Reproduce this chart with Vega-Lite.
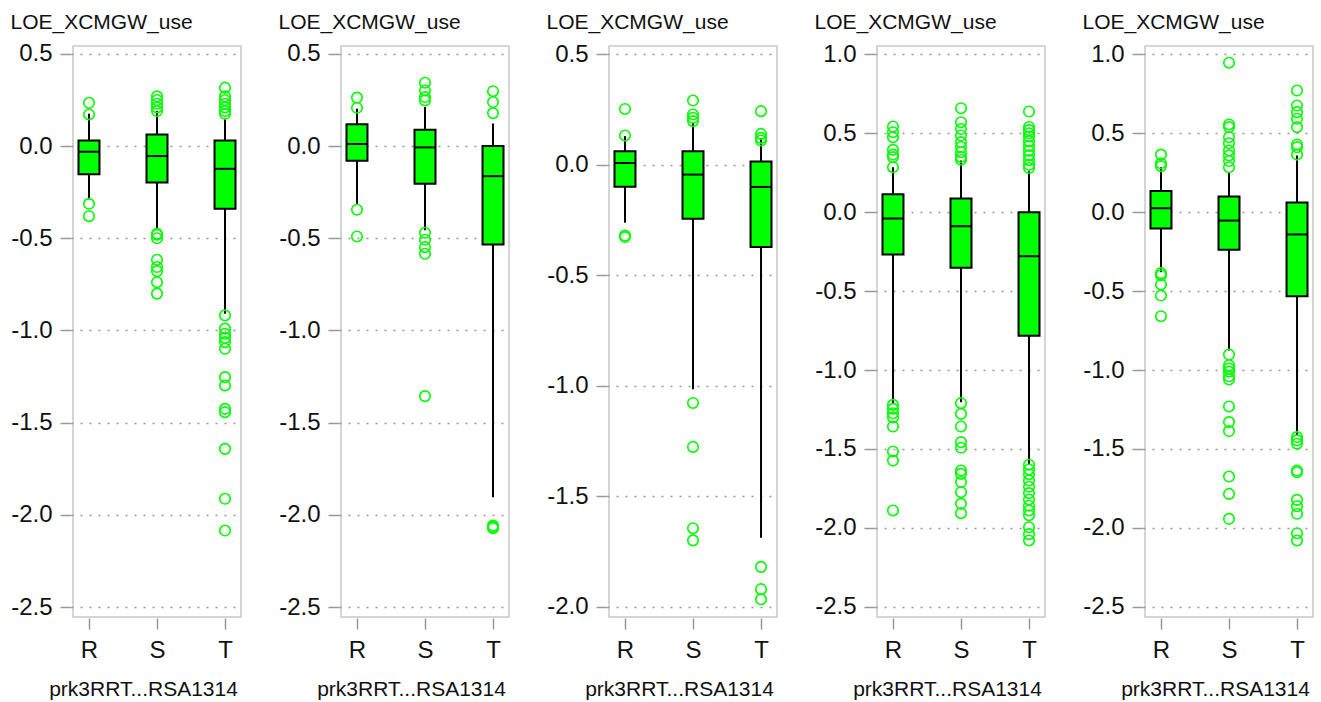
{
"$schema": "https://vega.github.io/schema/vega-lite/v6.json",
"padding": {"left": 9, "top": 10, "right": 0, "bottom": 0},
"bounds": "flush",
"spacing": 100,
"background": "white",
"datasets": {
"boxes": [
{"p":1,"c":"R","lo":-0.289,"q1":-0.152,"med":-0.030,"q3":0.031,"hi":0.176},
{"p":1,"c":"S","lo":-0.457,"q1":-0.197,"med":-0.054,"q3":0.063,"hi":0.19},
{"p":1,"c":"T","lo":-0.909,"q1":-0.34,"med":-0.123,"q3":0.031,"hi":0.149},
{"p":2,"c":"R","lo":-0.313,"q1":-0.079,"med":0.011,"q3":0.118,"hi":0.203},
{"p":2,"c":"S","lo":-0.457,"q1":-0.204,"med":-0.007,"q3":0.089,"hi":0.212},
{"p":2,"c":"T","lo":-1.904,"q1":-0.533,"med":-0.163,"q3":0.0,"hi":0.122},
{"p":3,"c":"R","lo":-0.262,"q1":-0.0995,"med":0.008,"q3":0.062,"hi":0.13},
{"p":3,"c":"S","lo":-1.016,"q1":-0.244,"med":-0.044,"q3":0.061,"hi":0.19},
{"p":3,"c":"T","lo":-1.688,"q1":-0.372,"med":-0.1,"q3":0.015,"hi":0.122},
{"p":4,"c":"R","lo":-1.214,"q1":-0.268,"med":-0.04,"q3":0.114,"hi":0.285},
{"p":4,"c":"S","lo":-1.204,"q1":-0.352,"med":-0.089,"q3":0.087,"hi":0.328},
{"p":4,"c":"T","lo":-1.595,"q1":-0.783,"med":-0.279,"q3":0.0,"hi":0.26},
{"p":5,"c":"R","lo":-0.38,"q1":-0.103,"med":0.025,"q3":0.135,"hi":0.285},
{"p":5,"c":"S","lo":-0.876,"q1":-0.238,"med":-0.053,"q3":0.1,"hi":0.253},
{"p":5,"c":"T","lo":-1.415,"q1":-0.532,"med":-0.141,"q3":0.061,"hi":0.359}
],
"outliers": [
{"p":1,"c":"R","v":0.235},{"p":1,"c":"R","v":0.172},{"p":1,"c":"R","v":-0.313},{"p":1,"c":"R","v":-0.38},
{"p":1,"c":"S","v":0.27},{"p":1,"c":"S","v":0.25},{"p":1,"c":"S","v":0.23},{"p":1,"c":"S","v":0.21},{"p":1,"c":"S","v":0.19},{"p":1,"c":"S","v":-0.475},{"p":1,"c":"S","v":-0.48},{"p":1,"c":"S","v":-0.5},{"p":1,"c":"S","v":-0.616},{"p":1,"c":"S","v":-0.656},{"p":1,"c":"S","v":-0.678},{"p":1,"c":"S","v":-0.738},{"p":1,"c":"S","v":-0.8},
{"p":1,"c":"T","v":0.317},{"p":1,"c":"T","v":0.27},{"p":1,"c":"T","v":0.25},{"p":1,"c":"T","v":0.23},{"p":1,"c":"T","v":0.21},{"p":1,"c":"T","v":0.19},{"p":1,"c":"T","v":0.175},{"p":1,"c":"T","v":-0.918},{"p":1,"c":"T","v":-0.99},{"p":1,"c":"T","v":-1.018},{"p":1,"c":"T","v":-1.04},{"p":1,"c":"T","v":-1.063},{"p":1,"c":"T","v":-1.099},{"p":1,"c":"T","v":-1.253},{"p":1,"c":"T","v":-1.298},{"p":1,"c":"T","v":-1.425},{"p":1,"c":"T","v":-1.443},{"p":1,"c":"T","v":-1.642},{"p":1,"c":"T","v":-1.913},{"p":1,"c":"T","v":-2.085},
{"p":2,"c":"R","v":0.263},{"p":2,"c":"R","v":0.208},{"p":2,"c":"R","v":-0.345},{"p":2,"c":"R","v":-0.49},
{"p":2,"c":"S","v":0.344},{"p":2,"c":"S","v":0.302},{"p":2,"c":"S","v":0.266},{"p":2,"c":"S","v":0.248},{"p":2,"c":"S","v":-0.47},{"p":2,"c":"S","v":-0.508},{"p":2,"c":"S","v":-0.548},{"p":2,"c":"S","v":-0.584},{"p":2,"c":"S","v":-1.356},
{"p":2,"c":"T","v":0.298},{"p":2,"c":"T","v":0.239},{"p":2,"c":"T","v":0.179},{"p":2,"c":"T","v":-2.058},{"p":2,"c":"T","v":-2.065},{"p":2,"c":"T","v":-2.072},
{"p":3,"c":"R","v":0.253},{"p":3,"c":"R","v":0.133},{"p":3,"c":"R","v":-0.32},{"p":3,"c":"R","v":-0.327},
{"p":3,"c":"S","v":0.291},{"p":3,"c":"S","v":0.228},{"p":3,"c":"S","v":0.213},{"p":3,"c":"S","v":0.198},{"p":3,"c":"S","v":-1.078},{"p":3,"c":"S","v":-1.277},{"p":3,"c":"S","v":-1.645},{"p":3,"c":"S","v":-1.7},
{"p":3,"c":"T","v":0.243},{"p":3,"c":"T","v":0.14},{"p":3,"c":"T","v":0.122},{"p":3,"c":"T","v":0.11},{"p":3,"c":"T","v":-1.82},{"p":3,"c":"T","v":-1.921},{"p":3,"c":"T","v":-1.967},
{"p":4,"c":"R","v":0.543},{"p":4,"c":"R","v":0.507},{"p":4,"c":"R","v":0.475},{"p":4,"c":"R","v":0.395},{"p":4,"c":"R","v":0.365},{"p":4,"c":"R","v":0.349},{"p":4,"c":"R","v":0.285},{"p":4,"c":"R","v":-1.221},{"p":4,"c":"R","v":-1.246},{"p":4,"c":"R","v":-1.274},{"p":4,"c":"R","v":-1.3},{"p":4,"c":"R","v":-1.358},{"p":4,"c":"R","v":-1.516},{"p":4,"c":"R","v":-1.574},{"p":4,"c":"R","v":-1.89},
{"p":4,"c":"S","v":0.659},{"p":4,"c":"S","v":0.57},{"p":4,"c":"S","v":0.527},{"p":4,"c":"S","v":0.486},{"p":4,"c":"S","v":0.444},{"p":4,"c":"S","v":0.413},{"p":4,"c":"S","v":0.38},{"p":4,"c":"S","v":0.349},{"p":4,"c":"S","v":0.332},{"p":4,"c":"S","v":-1.21},{"p":4,"c":"S","v":-1.278},{"p":4,"c":"S","v":-1.358},{"p":4,"c":"S","v":-1.457},{"p":4,"c":"S","v":-1.493},{"p":4,"c":"S","v":-1.637},{"p":4,"c":"S","v":-1.658},{"p":4,"c":"S","v":-1.71},{"p":4,"c":"S","v":-1.774},{"p":4,"c":"S","v":-1.848},{"p":4,"c":"S","v":-1.907},
{"p":4,"c":"T","v":0.638},{"p":4,"c":"T","v":0.54},{"p":4,"c":"T","v":0.52},{"p":4,"c":"T","v":0.5},{"p":4,"c":"T","v":0.48},{"p":4,"c":"T","v":0.45},{"p":4,"c":"T","v":0.42},{"p":4,"c":"T","v":0.39},{"p":4,"c":"T","v":0.36},{"p":4,"c":"T","v":0.33},{"p":4,"c":"T","v":0.3},{"p":4,"c":"T","v":0.28},{"p":4,"c":"T","v":-1.6},{"p":4,"c":"T","v":-1.63},{"p":4,"c":"T","v":-1.66},{"p":4,"c":"T","v":-1.7},{"p":4,"c":"T","v":-1.74},{"p":4,"c":"T","v":-1.78},{"p":4,"c":"T","v":-1.82},{"p":4,"c":"T","v":-1.86},{"p":4,"c":"T","v":-1.89},{"p":4,"c":"T","v":-1.92},{"p":4,"c":"T","v":-1.996},{"p":4,"c":"T","v":-2.04},{"p":4,"c":"T","v":-2.08},
{"p":5,"c":"R","v":0.365},{"p":5,"c":"R","v":0.31},{"p":5,"c":"R","v":0.292},{"p":5,"c":"R","v":-0.386},{"p":5,"c":"R","v":-0.4},{"p":5,"c":"R","v":-0.458},{"p":5,"c":"R","v":-0.528},{"p":5,"c":"R","v":-0.659},
{"p":5,"c":"S","v":0.947},{"p":5,"c":"S","v":0.556},{"p":5,"c":"S","v":0.539},{"p":5,"c":"S","v":0.475},{"p":5,"c":"S","v":0.437},{"p":5,"c":"S","v":0.391},{"p":5,"c":"S","v":0.36},{"p":5,"c":"S","v":0.324},{"p":5,"c":"S","v":0.285},{"p":5,"c":"S","v":-0.902},{"p":5,"c":"S","v":-0.97},{"p":5,"c":"S","v":-0.99},{"p":5,"c":"S","v":-1.01},{"p":5,"c":"S","v":-1.04},{"p":5,"c":"S","v":-1.06},{"p":5,"c":"S","v":-1.231},{"p":5,"c":"S","v":-1.33},{"p":5,"c":"S","v":-1.387},{"p":5,"c":"S","v":-1.675},{"p":5,"c":"S","v":-1.785},{"p":5,"c":"S","v":-1.943},
{"p":5,"c":"T","v":0.771},{"p":5,"c":"T","v":0.676},{"p":5,"c":"T","v":0.634},{"p":5,"c":"T","v":0.592},{"p":5,"c":"T","v":0.539},{"p":5,"c":"T","v":0.429},{"p":5,"c":"T","v":0.412},{"p":5,"c":"T","v":0.365},{"p":5,"c":"T","v":-1.425},{"p":5,"c":"T","v":-1.446},{"p":5,"c":"T","v":-1.467},{"p":5,"c":"T","v":-1.637},{"p":5,"c":"T","v":-1.648},{"p":5,"c":"T","v":-1.823},{"p":5,"c":"T","v":-1.863},{"p":5,"c":"T","v":-1.911},{"p":5,"c":"T","v":-2.034},{"p":5,"c":"T","v":-2.08}
]
},
"hconcat": [
{"width":168,"height":571,"layer":[
 {"data":{"name":"boxes"},"transform":[{"filter":"datum.p==1"}],"mark":{"type":"rule","color":"black","strokeWidth":2},
  "encoding":{"x":{"field":"c","type":"nominal","scale":{"type":"point","domain":["R","S","T"],"padding":0.235},"axis":{"title":"prk3RRT...RSA1314","titleX":70,"titleY":77,"titleBaseline":"alphabetic","titleAlign":"center"}},
   "y":{"field":"lo","type":"quantitative","scale":{"domain":[-2.554,0.543],"nice":false,"zero":false},"axis":{"title":"LOE_XCMGW_use","values":[-2.5,-2,-1.5,-1,-0.5,0,0.5],"labelExpr":"datum.value < 0 ? '-' + format(-datum.value, '.1f') : format(datum.value, '.1f')","titleX":-61,"titleY":-18,"titleAngle":0,"titleAlign":"left","titleBaseline":"alphabetic"}},"y2":{"field":"hi"}}},
 {"data":{"name":"boxes"},"transform":[{"filter":"datum.p==1"}],"mark":{"type":"bar","fill":"#00ff00","stroke":"black","strokeWidth":2,"width":21},
  "encoding":{"x":{"field":"c","type":"nominal","scale":{"type":"point","domain":["R","S","T"],"padding":0.235}},
   "y":{"field":"q1","type":"quantitative","scale":{"domain":[-2.554,0.543],"nice":false,"zero":false}},"y2":{"field":"q3"}}},
 {"data":{"name":"boxes"},"transform":[{"filter":"datum.p==1"}],"mark":{"type":"tick","color":"black","size":21,"thickness":2,"opacity":1},
  "encoding":{"x":{"field":"c","type":"nominal","scale":{"type":"point","domain":["R","S","T"],"padding":0.235}},
   "y":{"field":"med","type":"quantitative","scale":{"domain":[-2.554,0.543],"nice":false,"zero":false}}}},
 {"data":{"name":"outliers"},"transform":[{"filter":"datum.p==1"}],"mark":{"type":"point","shape":"circle","filled":false,"color":"#00ff00","size":110,"strokeWidth":1.6,"opacity":1},
  "encoding":{"x":{"field":"c","type":"nominal","scale":{"type":"point","domain":["R","S","T"],"padding":0.235}},
   "y":{"field":"v","type":"quantitative","scale":{"domain":[-2.554,0.543],"nice":false,"zero":false}}}}
]},
{"width":168,"height":571,"layer":[
 {"data":{"name":"boxes"},"transform":[{"filter":"datum.p==2"}],"mark":{"type":"rule","color":"black","strokeWidth":2},
  "encoding":{"x":{"field":"c","type":"nominal","scale":{"type":"point","domain":["R","S","T"],"padding":0.235},"axis":{"title":"prk3RRT...RSA1314","titleX":70,"titleY":77,"titleBaseline":"alphabetic","titleAlign":"center"}},
   "y":{"field":"lo","type":"quantitative","scale":{"domain":[-2.554,0.543],"nice":false,"zero":false},"axis":{"title":"LOE_XCMGW_use","values":[-2.5,-2,-1.5,-1,-0.5,0,0.5],"labelExpr":"datum.value < 0 ? '-' + format(-datum.value, '.1f') : format(datum.value, '.1f')","titleX":-61,"titleY":-18,"titleAngle":0,"titleAlign":"left","titleBaseline":"alphabetic"}},"y2":{"field":"hi"}}},
 {"data":{"name":"boxes"},"transform":[{"filter":"datum.p==2"}],"mark":{"type":"bar","fill":"#00ff00","stroke":"black","strokeWidth":2,"width":21},
  "encoding":{"x":{"field":"c","type":"nominal","scale":{"type":"point","domain":["R","S","T"],"padding":0.235}},
   "y":{"field":"q1","type":"quantitative","scale":{"domain":[-2.554,0.543],"nice":false,"zero":false}},"y2":{"field":"q3"}}},
 {"data":{"name":"boxes"},"transform":[{"filter":"datum.p==2"}],"mark":{"type":"tick","color":"black","size":21,"thickness":2,"opacity":1},
  "encoding":{"x":{"field":"c","type":"nominal","scale":{"type":"point","domain":["R","S","T"],"padding":0.235}},
   "y":{"field":"med","type":"quantitative","scale":{"domain":[-2.554,0.543],"nice":false,"zero":false}}}},
 {"data":{"name":"outliers"},"transform":[{"filter":"datum.p==2"}],"mark":{"type":"point","shape":"circle","filled":false,"color":"#00ff00","size":110,"strokeWidth":1.6,"opacity":1},
  "encoding":{"x":{"field":"c","type":"nominal","scale":{"type":"point","domain":["R","S","T"],"padding":0.235}},
   "y":{"field":"v","type":"quantitative","scale":{"domain":[-2.554,0.543],"nice":false,"zero":false}}}}
]},
{"width":168,"height":571,"layer":[
 {"data":{"name":"boxes"},"transform":[{"filter":"datum.p==3"}],"mark":{"type":"rule","color":"black","strokeWidth":2},
  "encoding":{"x":{"field":"c","type":"nominal","scale":{"type":"point","domain":["R","S","T"],"padding":0.235},"axis":{"title":"prk3RRT...RSA1314","titleX":70,"titleY":77,"titleBaseline":"alphabetic","titleAlign":"center"}},
   "y":{"field":"lo","type":"quantitative","scale":{"domain":[-2.047,0.538],"nice":false,"zero":false},"axis":{"title":"LOE_XCMGW_use","values":[-2,-1.5,-1,-0.5,0,0.5],"labelExpr":"datum.value < 0 ? '-' + format(-datum.value, '.1f') : format(datum.value, '.1f')","titleX":-61,"titleY":-18,"titleAngle":0,"titleAlign":"left","titleBaseline":"alphabetic"}},"y2":{"field":"hi"}}},
 {"data":{"name":"boxes"},"transform":[{"filter":"datum.p==3"}],"mark":{"type":"bar","fill":"#00ff00","stroke":"black","strokeWidth":2,"width":21},
  "encoding":{"x":{"field":"c","type":"nominal","scale":{"type":"point","domain":["R","S","T"],"padding":0.235}},
   "y":{"field":"q1","type":"quantitative","scale":{"domain":[-2.047,0.538],"nice":false,"zero":false}},"y2":{"field":"q3"}}},
 {"data":{"name":"boxes"},"transform":[{"filter":"datum.p==3"}],"mark":{"type":"tick","color":"black","size":21,"thickness":2,"opacity":1},
  "encoding":{"x":{"field":"c","type":"nominal","scale":{"type":"point","domain":["R","S","T"],"padding":0.235}},
   "y":{"field":"med","type":"quantitative","scale":{"domain":[-2.047,0.538],"nice":false,"zero":false}}}},
 {"data":{"name":"outliers"},"transform":[{"filter":"datum.p==3"}],"mark":{"type":"point","shape":"circle","filled":false,"color":"#00ff00","size":110,"strokeWidth":1.6,"opacity":1},
  "encoding":{"x":{"field":"c","type":"nominal","scale":{"type":"point","domain":["R","S","T"],"padding":0.235}},
   "y":{"field":"v","type":"quantitative","scale":{"domain":[-2.047,0.538],"nice":false,"zero":false}}}}
]},
{"width":168,"height":571,"layer":[
 {"data":{"name":"boxes"},"transform":[{"filter":"datum.p==4"}],"mark":{"type":"rule","color":"black","strokeWidth":2},
  "encoding":{"x":{"field":"c","type":"nominal","scale":{"type":"point","domain":["R","S","T"],"padding":0.235},"axis":{"title":"prk3RRT...RSA1314","titleX":70,"titleY":77,"titleBaseline":"alphabetic","titleAlign":"center"}},
   "y":{"field":"lo","type":"quantitative","scale":{"domain":[-2.565,1.053],"nice":false,"zero":false},"axis":{"title":"LOE_XCMGW_use","values":[-2.5,-2,-1.5,-1,-0.5,0,0.5,1],"labelExpr":"datum.value < 0 ? '-' + format(-datum.value, '.1f') : format(datum.value, '.1f')","titleX":-61,"titleY":-18,"titleAngle":0,"titleAlign":"left","titleBaseline":"alphabetic"}},"y2":{"field":"hi"}}},
 {"data":{"name":"boxes"},"transform":[{"filter":"datum.p==4"}],"mark":{"type":"bar","fill":"#00ff00","stroke":"black","strokeWidth":2,"width":21},
  "encoding":{"x":{"field":"c","type":"nominal","scale":{"type":"point","domain":["R","S","T"],"padding":0.235}},
   "y":{"field":"q1","type":"quantitative","scale":{"domain":[-2.565,1.053],"nice":false,"zero":false}},"y2":{"field":"q3"}}},
 {"data":{"name":"boxes"},"transform":[{"filter":"datum.p==4"}],"mark":{"type":"tick","color":"black","size":21,"thickness":2,"opacity":1},
  "encoding":{"x":{"field":"c","type":"nominal","scale":{"type":"point","domain":["R","S","T"],"padding":0.235}},
   "y":{"field":"med","type":"quantitative","scale":{"domain":[-2.565,1.053],"nice":false,"zero":false}}}},
 {"data":{"name":"outliers"},"transform":[{"filter":"datum.p==4"}],"mark":{"type":"point","shape":"circle","filled":false,"color":"#00ff00","size":110,"strokeWidth":1.6,"opacity":1},
  "encoding":{"x":{"field":"c","type":"nominal","scale":{"type":"point","domain":["R","S","T"],"padding":0.235}},
   "y":{"field":"v","type":"quantitative","scale":{"domain":[-2.565,1.053],"nice":false,"zero":false}}}}
]},
{"width":168,"height":571,"layer":[
 {"data":{"name":"boxes"},"transform":[{"filter":"datum.p==5"}],"mark":{"type":"rule","color":"black","strokeWidth":2},
  "encoding":{"x":{"field":"c","type":"nominal","scale":{"type":"point","domain":["R","S","T"],"padding":0.235},"axis":{"title":"prk3RRT...RSA1314","titleX":70,"titleY":77,"titleBaseline":"alphabetic","titleAlign":"center"}},
   "y":{"field":"lo","type":"quantitative","scale":{"domain":[-2.565,1.053],"nice":false,"zero":false},"axis":{"title":"LOE_XCMGW_use","values":[-2.5,-2,-1.5,-1,-0.5,0,0.5,1],"labelExpr":"datum.value < 0 ? '-' + format(-datum.value, '.1f') : format(datum.value, '.1f')","titleX":-61,"titleY":-18,"titleAngle":0,"titleAlign":"left","titleBaseline":"alphabetic"}},"y2":{"field":"hi"}}},
 {"data":{"name":"boxes"},"transform":[{"filter":"datum.p==5"}],"mark":{"type":"bar","fill":"#00ff00","stroke":"black","strokeWidth":2,"width":21},
  "encoding":{"x":{"field":"c","type":"nominal","scale":{"type":"point","domain":["R","S","T"],"padding":0.235}},
   "y":{"field":"q1","type":"quantitative","scale":{"domain":[-2.565,1.053],"nice":false,"zero":false}},"y2":{"field":"q3"}}},
 {"data":{"name":"boxes"},"transform":[{"filter":"datum.p==5"}],"mark":{"type":"tick","color":"black","size":21,"thickness":2,"opacity":1},
  "encoding":{"x":{"field":"c","type":"nominal","scale":{"type":"point","domain":["R","S","T"],"padding":0.235}},
   "y":{"field":"med","type":"quantitative","scale":{"domain":[-2.565,1.053],"nice":false,"zero":false}}}},
 {"data":{"name":"outliers"},"transform":[{"filter":"datum.p==5"}],"mark":{"type":"point","shape":"circle","filled":false,"color":"#00ff00","size":110,"strokeWidth":1.6,"opacity":1},
  "encoding":{"x":{"field":"c","type":"nominal","scale":{"type":"point","domain":["R","S","T"],"padding":0.235}},
   "y":{"field":"v","type":"quantitative","scale":{"domain":[-2.565,1.053],"nice":false,"zero":false}}}}
]}
],
"config": {
 "font": "Liberation Sans",
 "view": {"stroke": "#c8c8c8", "strokeWidth": 1.5},
 "axis": {"labelFont": "Liberation Sans", "titleFont": "Liberation Sans", "labelColor": "#111111", "titleColor": "#111111", "tickColor": "#999999", "tickWidth": 1.5, "domain": false, "titleFontWeight": "normal", "labelFontSize": 24, "titleFontSize": 21},
 "axisX": {"labelAngle": 0, "tickSize": 11, "offset": 1, "labelPadding": 9, "grid": false},
 "axisY": {"tickSize": 11, "offset": 2, "labelPadding": 8, "grid": true, "gridColor": "#999999", "gridDash": [2, 7], "gridWidth": 1.5}
}
}
